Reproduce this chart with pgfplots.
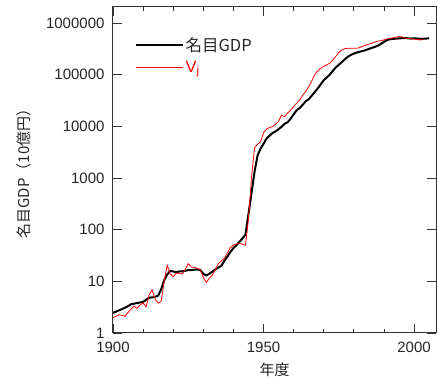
\documentclass[border=0pt]{standalone}
\usepackage{pgfplots}
\pgfplotsset{compat=1.18}
\usepackage{fontspec}
\setmainfont{Liberation Sans}
\newfontfamily\cjk{Noto Sans CJK JP}
\pgfplotstableread{
year gdp
1900 2.45
1901 2.6
1902 2.75
1903 2.9
1904 3.1
1905 3.3
1906 3.6
1907 3.7
1908 3.8
1909 3.9
1910 4.0
1911 4.4
1912 4.8
1913 4.9
1914 5.0
1915 5.3
1916 7.0
1917 10.5
1918 13.5
1919 16.0
1920 15.5
1921 15.0
1922 15.5
1923 15.6
1924 16.0
1925 16.5
1926 16.5
1927 16.8
1928 17.0
1929 16.5
1930 14.0
1931 13.0
1932 14.0
1933 15.5
1934 17.0
1935 18.5
1936 20.0
1937 25.0
1938 30.0
1939 37.0
1940 44.0
1941 50.0
1942 58.0
1943 68.0
1944 80.0
1945 200
1946 500
1947 1300
1948 2700
1949 3700
1950 4600
1951 5800
1952 6600
1953 7400
1954 8000
1955 8800
1956 9800
1957 11200
1958 12000
1959 14000
1960 17000
1961 20500
1962 22500
1963 26000
1964 30500
1965 33500
1966 39000
1967 46000
1968 54000
1969 65000
1970 78000
1971 88000
1972 100000
1973 118000
1974 138000
1975 155000
1976 175000
1977 198000
1978 222000
1979 240000
1980 255000
1981 268000
1982 278000
1983 288000
1984 300000
1985 315000
1986 330000
1987 345000
1988 365000
1989 395000
1990 430000
1991 465000
1992 485000
1993 492000
1994 497000
1995 503000
1996 508000
1997 512000
1998 505000
1999 500000
2000 505000
2001 500000
2002 495000
2003 495000
2004 500000
2005 503000
}\gdptable
\pgfplotstableread{
year vj
1900 2.0
1901 2.1
1902 2.25
1903 2.2
1904 2.1
1905 2.5
1906 2.9
1907 3.3
1908 3.0
1909 3.5
1910 3.8
1911 3.2
1912 5.5
1913 6.8
1914 4.5
1915 3.8
1916 4.1
1917 10
1918 20.5
1919 14
1920 12.3
1921 14.3
1922 14.3
1923 13.8
1924 17
1925 22
1926 19
1927 18.5
1928 18
1929 16.6
1930 12
1931 9.5
1932 11.5
1933 13.3
1934 17
1935 22
1936 25
1937 28
1938 35
1939 45
1940 50
1941 53
1942 55
1943 52
1944 50
1945 160
1946 1000
1947 3800
1948 4500
1949 5000
1950 7500
1951 8800
1952 9500
1953 9900
1954 11000
1955 12500
1956 16500
1957 15300
1958 18000
1959 20500
1960 24000
1961 28000
1962 32000
1963 40000
1964 47000
1965 58000
1966 75000
1967 100000
1968 118000
1969 132000
1970 145000
1971 155000
1972 166000
1973 190000
1974 225000
1975 270000
1976 300000
1977 318000
1978 324000
1979 325000
1980 323000
1981 325000
1982 335000
1983 355000
1984 375000
1985 390000
1986 405000
1987 430000
1988 445000
1989 455000
1990 470000
1991 490000
1992 505000
1993 515000
1994 530000
1995 545000
1996 540000
1997 510000
1998 500000
1999 495000
2000 490000
2001 480000
2002 470000
2003 475000
}\vjtable
\begin{document}
\begin{tikzpicture}
\useasboundingbox (-113pt,-46pt) rectangle (325pt,333pt);
\begin{axis}[
  at={(0pt,0pt)}, anchor=south west,
  scale only axis, width=323pt, height=326pt,
  xmin=1900, xmax=2007.3,
  ymode=log, log basis y=10, ymin=1, ymax=2.04e6,
  xtick={1900,1950,2000},
  minor xtick={1910,1920,1930,1940,1960,1970,1980,1990},
  ytick={1,10,100,1000,10000,100000,1000000},
  yticklabels={1,10,100,1000,10000,100000,1000000},
  tick align=inside,
  major tick length=9pt, minor tick length=4.5pt,
  every tick/.style={black!80, line width=0.8pt},
  axis line style={black!80, line width=1pt},
  /pgf/number format/assume math mode=true,
  /pgf/number format/1000 sep={},
  tick label style={font=\fontsize{15}{18}\selectfont, text=black!85},
  xticklabel style={yshift=-5pt},
  yticklabel style={xshift=-5pt},
  xlabel={\cjk 年度},
  ylabel={\cjk 名目GDP（10億円）},
  label style={font=\fontsize{15}{18}\selectfont, text=black!85},
  xlabel style={yshift=-4pt},
  ylabel style={yshift=8pt},
  legend style={at={(0.06,0.92)}, anchor=north west, draw=none, fill=none,
    font=\fontsize{16.5}{19}\selectfont, row sep=4pt, inner sep=2pt},
  legend cell align=left,
  legend image code/.code={\draw[#1] (0pt,0pt) -- (47pt,0pt);},
]
\addplot[black, line width=2pt] table[x=year, y=gdp] {\gdptable};
\addlegendentry{\textcolor{black!85}{\cjk 名目GDP}}
\addplot[red, line width=0.8pt] table[x=year, y=vj] {\vjtable};
\addlegendentry{\textcolor{red}{V\textsubscript{j}}}
\end{axis}
\end{tikzpicture}
\end{document}
